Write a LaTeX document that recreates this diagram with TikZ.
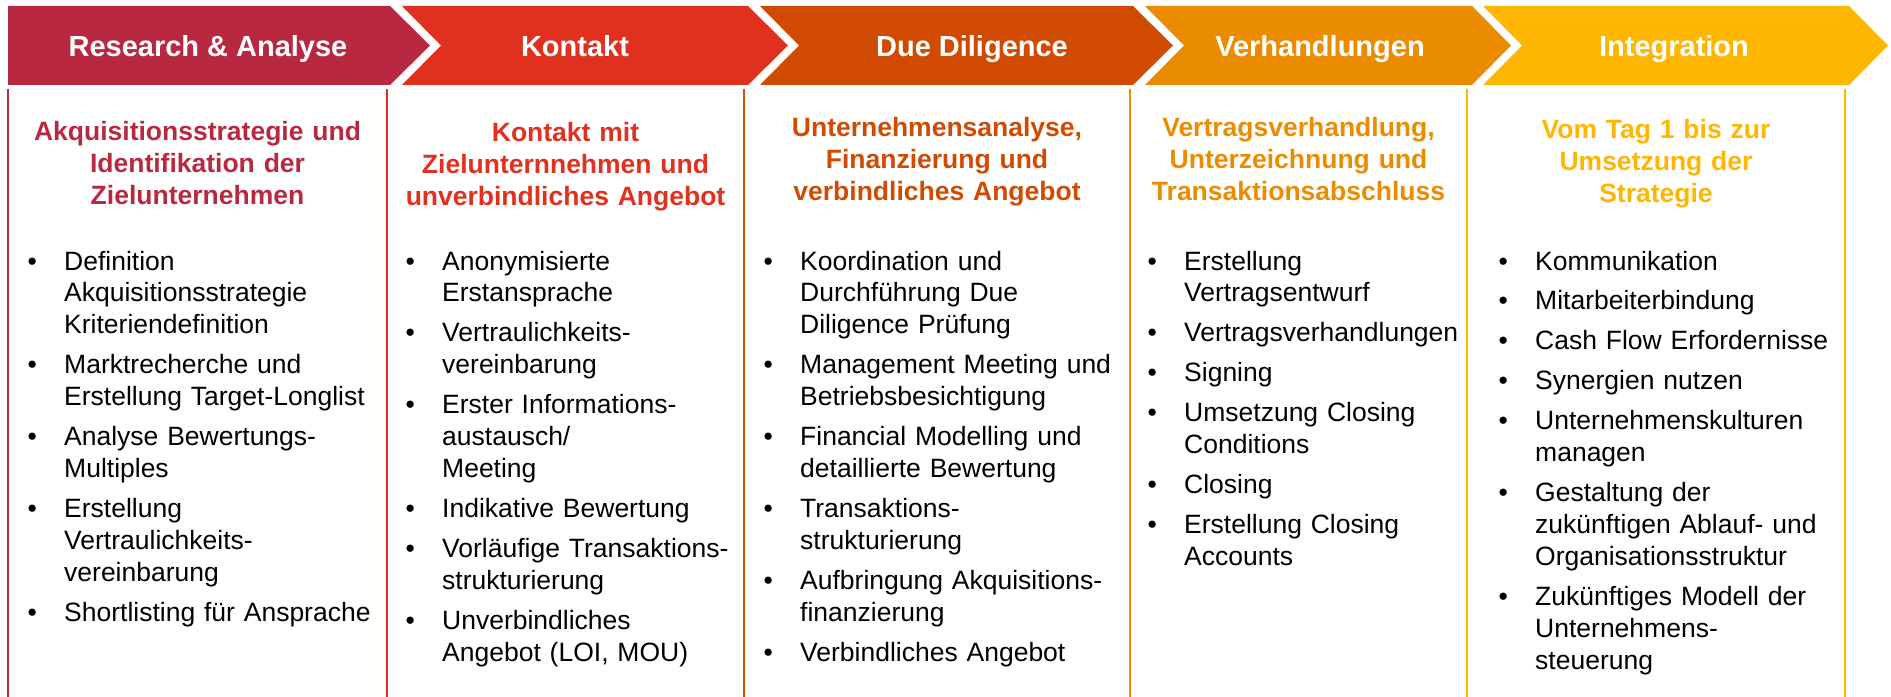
\documentclass[tikz,border=0pt]{standalone}
\usepackage{fontspec}
\setmainfont{Liberation Sans}
\definecolor{cCrim}{HTML}{B92841}
\definecolor{cRed}{HTML}{E0301E}
\definecolor{cDor}{HTML}{D04A02}
\definecolor{cOra}{HTML}{EB8C00}
\definecolor{cYel}{HTML}{FFB600}
\newcommand{\bfirst}[1]{\noindent\llap{\textbullet\hspace{27.35bp}}#1}
\newcommand{\bitem}[1]{\par\vspace{8bp}\noindent\llap{\textbullet\hspace{27.35bp}}#1}
\tikzset{
  headtext/.style={anchor=base, text=white, inner sep=0pt, font=\fontsize{29.1pt}{34pt}\selectfont\bfseries},
  coltitle/.style={anchor=base, inner sep=0pt, text width=#1, align=center, font=\fontsize{26.6pt}{32.1pt}\selectfont\bfseries},
  collist/.style={anchor=base west, inner sep=0pt, text width=335bp, align=left, font=\fontsize{26.6pt}{32.1pt}\selectfont},
  sepline/.style={line width=2.5bp}
}
\begin{document}
\begin{tikzpicture}[x=1bp,y=-1bp]
\useasboundingbox (0,0) rectangle (1891,697);
% chevrons
\fill[cCrim] (8,6) -- (390,6) -- (430,45.5) -- (390,85) -- (8,85) -- cycle;
\fill[cRed] (402,6) -- (748,6) -- (788,45.5) -- (748,85) -- (402,85) -- (441,45.5) -- cycle;
\fill[cDor] (760,6) -- (1133,6) -- (1173,45.5) -- (1133,85) -- (760,85) -- (799,45.5) -- cycle;
\fill[cOra] (1145,6) -- (1472,6) -- (1511,45.5) -- (1472,85) -- (1145,85) -- (1184,45.5) -- cycle;
\fill[cYel] (1483,6) -- (1849,6) -- (1888,45.5) -- (1849,85) -- (1483,85) -- (1522,45.5) -- cycle;
% header texts
\node[headtext] (h1) at (208,57) {Research \& Analyse};
\node[headtext] (h2) at (575,57) {Kontakt};
\node[headtext] (h3) at (972,57) {Due Diligence};
\node[headtext] (h4) at (1320,57) {Verhandlungen};
\node[headtext] (h5) at (1674,57) {Integration};
% column separators
\draw[sepline, cCrim] (8,89) -- (8,697);
\draw[sepline, cRed] (387,89) -- (387,697);
\draw[sepline, cDor] (744,89) -- (744,697);
\draw[sepline, cOra] (1130,89) -- (1130,697);
\draw[sepline, cYel] (1467,89) -- (1467,697);
\draw[sepline, cYel] (1845,89) -- (1845,697);
% titles
\node[coltitle=379bp, text=cCrim] (t1) at (197.5,141) {Akquisitionsstrategie und\\Identifikation der\\Zielunternehmen};
\node[coltitle=357bp, text=cRed] (t2) at (565.5,142) {Kontakt mit\\Zielunternnehmen und\\unverbindliches Angebot};
\node[coltitle=386bp, text=cDor] (t3) at (937,137) {Unternehmensanalyse,\\Finanzierung und\\verbindliches Angebot};
\node[coltitle=337bp, text=cOra] (t4) at (1298.5,137) {Vertragsverhandlung,\\Unterzeichnung und\\Transaktionsabschluss};
\node[coltitle=378bp, text=cYel] (t5) at (1656,139) {Vom Tag 1 bis zur\\Umsetzung der\\Strategie};
% lists
\node[collist] (l1) at (64,270) {%
\bfirst{Definition\\Akquisitionsstrategie\\Kriteriendefinition}
\bitem{Marktrecherche und\\Erstellung Target-Longlist}
\bitem{Analyse Bewertungs-\\Multiples}
\bitem{Erstellung\\Vertraulichkeits-\\vereinbarung}
\bitem{Shortlisting für Ansprache}};
\node[collist] (l2) at (442,270) {%
\bfirst{Anonymisierte\\Erstansprache}
\bitem{Vertraulichkeits-\\vereinbarung}
\bitem{Erster Informations-\\austausch/\\Meeting}
\bitem{Indikative Bewertung}
\bitem{Vorläufige Transaktions-\\strukturierung}
\bitem{Unverbindliches\\Angebot (LOI, MOU)}};
\node[collist] (l3) at (800,270) {%
\bfirst{Koordination und\\Durchführung Due\\Diligence Prüfung}
\bitem{Management Meeting und\\Betriebsbesichtigung}
\bitem{Financial Modelling und\\detaillierte Bewertung}
\bitem{Transaktions-\\strukturierung}
\bitem{Aufbringung Akquisitions-\\finanzierung}
\bitem{Verbindliches Angebot}};
\node[collist] (l4) at (1184,270) {%
\bfirst{Erstellung\\Vertragsentwurf}
\bitem{Vertragsverhandlungen}
\bitem{Signing}
\bitem{Umsetzung Closing\\Conditions}
\bitem{Closing}
\bitem{Erstellung Closing\\Accounts}};
\node[collist] (l5) at (1535,270) {%
\bfirst{Kommunikation}
\bitem{Mitarbeiterbindung}
\bitem{Cash Flow Erfordernisse}
\bitem{Synergien nutzen}
\bitem{Unternehmenskulturen\\managen}
\bitem{Gestaltung der\\zukünftigen Ablauf- und\\Organisationsstruktur}
\bitem{Zukünftiges Modell der\\Unternehmens-\\steuerung}};
\end{tikzpicture}
\end{document}
